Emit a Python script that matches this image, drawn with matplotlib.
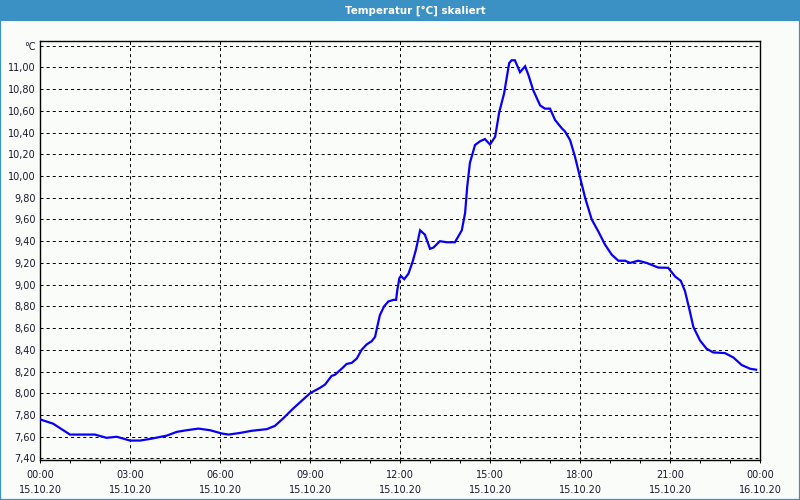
import matplotlib
matplotlib.use("Agg")
import matplotlib.pyplot as plt
from matplotlib.patches import Rectangle

# ---- data ----
hours = [0.0, 0.44, 0.72, 1.0, 1.83, 2.22, 2.56, 3.0, 3.33, 3.67, 4.22, 4.56, 4.89,
         5.28, 5.67, 6.06, 6.28, 6.67, 7.06, 7.56, 7.83, 8.11, 8.44, 9.0, 9.33, 9.5,
         9.72, 9.83, 10.11, 10.22, 10.39, 10.56, 10.72, 10.89, 11.06, 11.17, 11.24,
         11.33, 11.47, 11.61, 11.78, 11.87, 11.91, 11.98, 12.03, 12.14, 12.28, 12.42,
         12.53, 12.67, 12.83, 13.0, 13.11, 13.33, 13.56, 13.83, 14.06, 14.17, 14.24,
         14.33, 14.5, 14.67, 14.83, 15.0, 15.17, 15.31, 15.47, 15.64, 15.72, 15.83,
         16.0, 16.17, 16.28, 16.44, 16.67, 16.83, 17.0, 17.17, 17.39, 17.5, 17.67,
         17.83, 18.0, 18.17, 18.39, 18.61, 18.83, 19.06, 19.28, 19.5, 19.67, 19.94,
         20.22, 20.61, 20.94, 21.17, 21.36, 21.5, 21.64, 21.78, 22.0, 22.22, 22.44,
         22.83, 23.11, 23.39, 23.67, 23.87]
temperature = [7.76, 7.72, 7.67, 7.62, 7.62, 7.59, 7.60, 7.565, 7.565, 7.58, 7.61, 7.645,
               7.66, 7.675, 7.66, 7.63, 7.62, 7.635, 7.655, 7.67, 7.70, 7.77, 7.86, 8.00,
               8.05, 8.08, 8.16, 8.17, 8.24, 8.27, 8.28, 8.32, 8.40, 8.45, 8.48, 8.52,
               8.61, 8.72, 8.80, 8.845, 8.86, 8.86, 8.95, 9.06, 9.08, 9.05, 9.10, 9.21,
               9.32, 9.50, 9.46, 9.33, 9.34, 9.40, 9.39, 9.39, 9.50, 9.66, 9.90, 10.12,
               10.285, 10.32, 10.34, 10.29, 10.36, 10.59, 10.76, 11.04, 11.065, 11.065,
               10.955, 11.01, 10.93, 10.79, 10.65, 10.62, 10.62, 10.515, 10.44, 10.41,
               10.33, 10.18, 9.99, 9.80, 9.60, 9.49, 9.37, 9.275, 9.22, 9.22, 9.20,
               9.22, 9.20, 9.157, 9.155, 9.075, 9.035, 8.94, 8.78, 8.61, 8.486, 8.41,
               8.376, 8.37, 8.33, 8.26, 8.226, 8.217]

x_ticks = [0, 3, 6, 9, 12, 15, 18, 21, 24]
x_tick_labels = ["00:00\n15.10.20", "03:00\n15.10.20", "06:00\n15.10.20",
                 "09:00\n15.10.20", "12:00\n15.10.20", "15:00\n15.10.20",
                 "18:00\n15.10.20", "21:00\n15.10.20", "00:00\n16.10.20"]
y_ticks = [7.40, 7.60, 7.80, 8.00, 8.20, 8.40, 8.60, 8.80, 9.00, 9.20, 9.40, 9.60,
           9.80, 10.00, 10.20, 10.40, 10.60, 10.80, 11.00, 11.20]
y_tick_labels = ["7,40", "7,60", "7,80", "8,00", "8,20", "8,40", "8,60", "8,80",
                 "9,00", "9,20", "9,40", "9,60", "9,80", "10,00", "10,20", "10,40",
                 "10,60", "10,80", "11,00", "°C"]
title = "Temperatur [°C] skaliert"

# ---- style ----
plt.rcParams['font.family'] = ['DejaVu Sans']
plt.rcParams['lines.scale_dashes'] = False
bg = '#fafcfa'
blue_bar = '#3c91c4'
text_col = '#1a1a2e'

fig = plt.figure(figsize=(8, 5), dpi=100, facecolor=bg)
ax = fig.add_axes([40 / 800, 1 - 460 / 500, 720 / 800, 419.5 / 500])
ax.set_facecolor(bg)

ax.plot(hours, temperature, color='#0800f4', lw=1.6, solid_joinstyle='miter', zorder=3)

ax.set_xlim(0, 24)
ax.set_ylim(7.386, 11.247)

ax.set_xticks(x_ticks)
ax.set_xticklabels(x_tick_labels, fontsize=7, color=text_col, linespacing=1.55)
ax.set_xticks(range(0, 25), minor=True)
ax.set_yticks(y_ticks)
ax.set_yticklabels(y_tick_labels, fontsize=7, color=text_col)

ax.tick_params(axis='x', which='both', direction='out', length=2.4, width=0.72,
               color='black', pad=5)
ax.tick_params(axis='y', which='both', length=0, pad=3)

ax.grid(True, which='major', color='black', lw=0.72, linestyle=(0, (2.2, 2.2)))
ax.set_axisbelow(True)
for s in ax.spines.values():
    s.set_linewidth(1.0)
    s.set_color('black')

# title bar and border
fig.patches.append(Rectangle((0, 1 - 21 / 500), 1, 21 / 500, transform=fig.transFigure,
                             facecolor=blue_bar, edgecolor='none', zorder=0))
fig.patches.append(Rectangle((0, 0), 1, 1, transform=fig.transFigure, fill=False,
                             edgecolor=blue_bar, lw=1.6, zorder=5))
fig.text(415 / 800, 1 - 10.5 / 500, title, color='white', fontsize=7.4,
         fontweight='bold', ha='center', va='center')

fig.savefig('out.png', dpi=100, facecolor=bg)
